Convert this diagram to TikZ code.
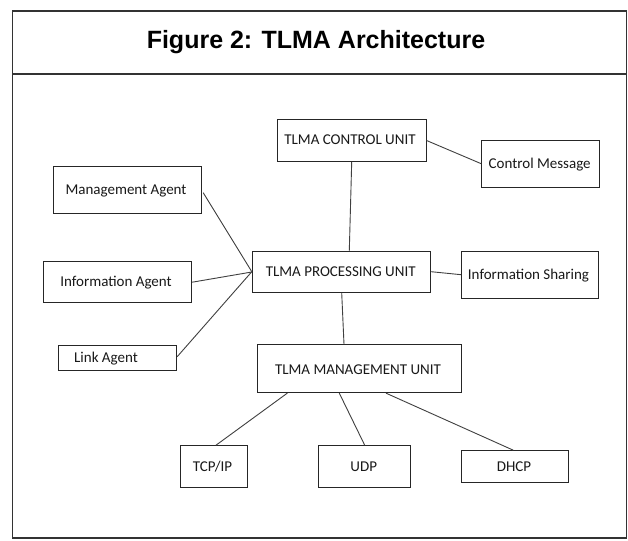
\documentclass[tikz,border=0pt]{standalone}
\usepackage{fontspec}
\setmainfont{Carlito}
\newfontfamily\titlefont{Liberation Sans}
\usetikzlibrary{calc}
\tikzset{
  x=1pt, y=-1pt,
  box/.style={draw=black!85, line width=1pt, rectangle, inner sep=0pt, fill=white},
  txt/.style={anchor=base, inner sep=0pt, font=\fontsize{15}{18}\selectfont, text=black!90},
  conn/.style={draw=black!75, line width=0.9pt},
  frame/.style={draw=black!80, line width=1.4pt}
}
\begin{document}
\begin{tikzpicture}
\useasboundingbox (0,0) rectangle (628,540);
\fill[white] (0,0) rectangle (628,540);
% outer frame and title
\draw[frame] (12.5,11) rectangle (626.5,538);
\draw[frame] (12.5,74) -- (626.5,74);
\node[anchor=base, inner sep=0pt, font=\titlefont\bfseries\fontsize{25}{30}\selectfont] (title) at (316,49) {Figure 2: TLMA Architecture};

% boxes
\node[box, minimum width=148.7pt, minimum height=41.7pt] (cu) at (351.7,140.5) {};
\node[txt] (cu-t) at (350,145) {TLMA CONTROL UNIT};
\node[box, minimum width=117.6pt, minimum height=47.3pt] (cm) at (540.5,163.7) {};
\node[txt] (cm-t) at (539.7,168.3) {Control Message};
\node[box, minimum width=148.4pt, minimum height=46.6pt] (ma) at (127.5,190) {};
\node[txt] (ma-t) at (126,194.3) {Management Agent};
\node[box, minimum width=178.4pt, minimum height=41.3pt] (pu) at (341.5,271.7) {};
\node[txt] (pu-t) at (340.7,276) {TLMA PROCESSING UNIT};
\node[box, minimum width=137.3pt, minimum height=47.3pt] (is) at (530.3,274.7) {};
\node[txt] (is-t) at (528.5,279.3) {Information Sharing};
\node[box, minimum width=148.4pt, minimum height=41pt] (ia) at (117.5,282.2) {};
\node[txt] (ia-t) at (116,286.7) {Information Agent};
\node[box, minimum width=118.4pt, minimum height=25pt] (la) at (117.5,357.5) {};
\node[txt] (la-t) at (106,362.3) {Link Agent};
\node[box, minimum width=204pt, minimum height=47.7pt] (mu) at (359.7,368.8) {};
\node[txt] (mu-t) at (358,374) {TLMA MANAGEMENT UNIT};
\node[box, minimum width=66.6pt, minimum height=41.6pt] (tcp) at (214,466.5) {};
\node[txt] (tcp-t) at (212.5,471.7) {TCP/IP};
\node[box, minimum width=92pt, minimum height=41.6pt] (udp) at (364.7,466.5) {};
\node[txt] (udp-t) at (363.7,471.7) {UDP};
\node[box, minimum width=107.4pt, minimum height=31.6pt] (dh) at (515,466.5) {};
\node[txt] (dh-t) at (514,471.7) {DHCP};

% connectors
\draw[conn] ($(ma.east)+(1,2.7)$) -- (pu.west);
\draw[conn] (ia.east) -- ($(pu.west)+(0,0.3)$);
\draw[conn] ($(la.east)+(0,-0.8)$) -- (pu.west);
\draw[conn] (cu.south) -- ($(pu.north)+(7.8,0)$);
\draw[conn] (cu.east) -- (cm.west);
\draw[conn] (pu.east) -- (is.west);
\draw[conn] ($(pu.south)+(0.2,0)$) -- ($(mu.north)+(-15.7,0)$);
\draw[conn] ($(mu.south)+(-72.4,0)$) -- ($(tcp.north)+(2,0)$);
\draw[conn] ($(mu.south)+(-20.4,0)$) -- (udp.north);
\draw[conn] ($(mu.south)+(26.3,0)$) -- ($(dh.north)+(-1.7,0)$);
\end{tikzpicture}
\end{document}
